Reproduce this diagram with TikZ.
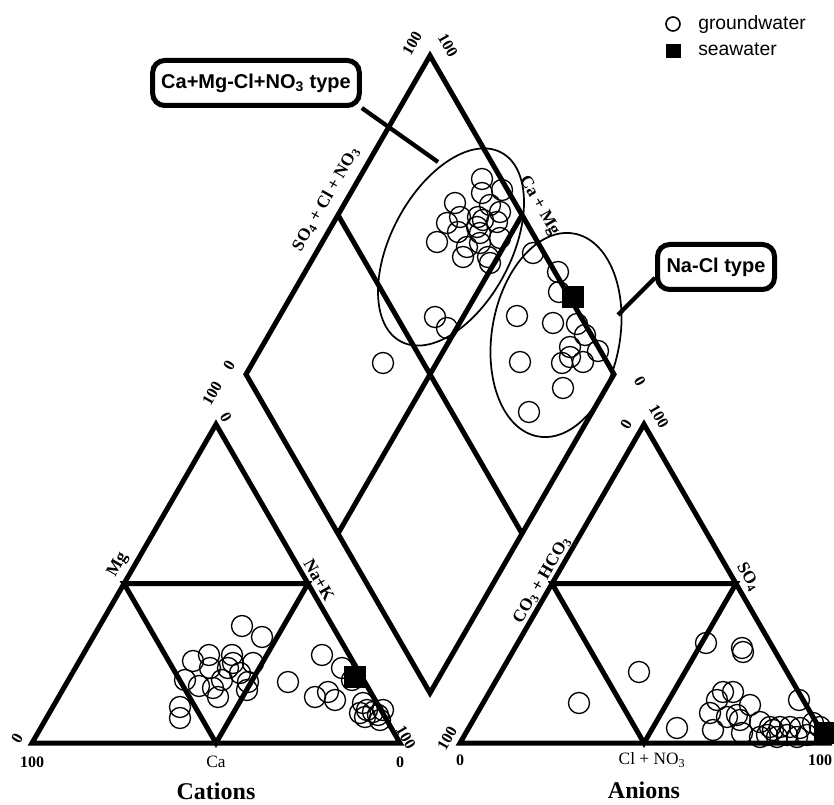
\documentclass[tikz,border=0pt]{standalone}
\usepackage{fontspec}
\setmainfont{Liberation Serif}
\setsansfont{Liberation Sans}
\usepackage{tikz}

\tikzset{
    frame/.style={line width=3.75pt, line join=miter},
    zone/.style={line width=1.3pt},
    lead/.style={line width=3.2pt},
    gw/.style={line width=1pt},
    sw/.style={fill=black},
    tick/.style={font=\bfseries\fontsize{12}{13}\selectfont, inner sep=0pt},
    axis/.style={font=\bfseries\fontsize{13}{14}\selectfont, inner sep=0pt},
    plain/.style={font=\fontsize{13}{14}\selectfont, inner sep=0pt},
    title/.style={font=\bfseries\fontsize{18}{19}\selectfont, inner sep=0pt, anchor=base},
    legend/.style={font=\sffamily\fontsize{14.5}{15}\selectfont, inner sep=0pt, anchor=base west},
    typebox/.style={draw, line width=3.75pt, rounded corners=9pt, fill=white, inner sep=0pt,
        minimum height=33.75pt, font=\sffamily\bfseries\fontsize{15}{16}\selectfont},
}

\begin{document}
\begin{tikzpicture}[x=0.75pt,y=-0.75pt]
    \useasboundingbox (0,0) rectangle (834,805);

    % diamond
    \draw[frame] (430,693) -- (246,374.3) -- (430,55.6) -- (614,374.3) -- cycle;
    \draw[frame] (338,215) -- (522,533.6);
    \draw[frame] (338,533.6) -- (522,215);

    % cations
    \draw[frame] (32,743) -- (216,424.3) -- (400,743) -- cycle;
    \draw[frame] (124,583.6) -- (308,583.6) -- (216,743) -- cycle;

    % anions
    \draw[frame] (460,743) -- (644,424.3) -- (828,743) -- cycle;
    \draw[frame] (552,583.6) -- (736,583.6) -- (644,743) -- cycle;

    % water types
    \draw[zone, rotate around={62:(451,247)}] (451,247) ellipse [x radius=107, y radius=60];
    \draw[zone, rotate around={-10:(556,335)}] (556,335) ellipse [x radius=64, y radius=103];

    % groundwater samples
    \foreach \p in {(242,626),(262,637),(193,661),(209,655),(210,668),(232,655),(233,663),
        (228,668),(253,663),(185,680),(199,686),(213,688),(218,697),(240,673),(248,682),
        (247,690),(222,680),(180,707),(180,718),(288,682),(322,655),(342,668),(315,697),
        (328,692),(335,700),(352,680),(363,703),(367,710),(373,712),(378,715),(380,720),
        (365,717),(383,710),(360,713)}
        \draw[gw] \p circle (10.5);
    \foreach \p in {(579,703),(639,672),(677,728),(706,643),(742,648),(743,652),(799,700),
        (723,692),(733,692),(717,700),(710,713),(727,717),(737,715),(750,705),(740,720),
        (713,730),(760,722),(770,727),(780,727),(790,727),(800,728),(813,723),(820,727),
        (767,735),(777,737),(787,735),(797,737),(807,735),(760,737),(742,733),(773,730)}
        \draw[gw] \p circle (10.5);
    \foreach \p in {(482,179),(502,190),(482,193),(455,203),(490,205),(500,212),(460,217),
        (478,217),(483,220),(447,223),(477,227),(497,222),(458,232),(480,233),(500,238),
        (437,242),(467,247),(480,243),(488,257),(463,257),(490,263),(435,317),(447,328),
        (383,363),(533,253),(558,272),(559,292),(517,316),(553,323),(577,324),(585,335),
        (570,347),(598,351),(520,362),(562,363),(570,357),(583,362),(563,388),(529,412)}
        \draw[gw] \p circle (10.5);

    % seawater
    \fill[sw] (344,666) rectangle (366,688);
    \fill[sw] (562,286) rectangle (584,308);
    \fill[sw] (814,722) rectangle (836,744);

    % type labels
    \coordinate (camgend) at (438,162);
    \coordinate (naclend) at (618,315);
    \node[typebox, minimum width=155pt] (camgbox) at (256,83) {Ca+Mg-Cl+NO\textsubscript{3} type};
    \draw[lead] (camgbox.south east) -- (camgend);
    \node[typebox, minimum width=87.75pt] (naclbox) at (716,267) {Na-Cl type};
    \draw[lead] (naclbox.190) -- (naclend);

    % legend
    \draw[line width=1.2pt] (673,24) circle (7);
    \node[legend] (gwtext) at (698,29.5) {groundwater};
    \fill[sw] (666,44) rectangle (681,58);
    \node[legend] (swtext) at (698,56) {seawater};

    % cation labels
    \node[tick, rotate=60] (cmgzero) at (17,738) {0};
    \node[tick] (ccahund) at (32,762) {100};
    \node[plain] (cca) at (216,762) {Ca};
    \node[tick] (ccazero) at (400,762) {0};
    \node[tick, rotate=-60] (cnahund) at (406,737) {100};
    \node[axis, rotate=60] (cmg) at (118,565) {Mg};
    \node[axis, rotate=-60] (cna) at (319,580) {Na+K};
    \node[tick, rotate=60] (cmghund) at (212,393) {100};
    \node[tick, rotate=-60] (cnazero) at (226,417) {0};
    \node[title] (cations) at (216,799) {Cations};

    % anion labels
    \node[tick, rotate=60] (aczero) at (626,424) {0};
    \node[tick, rotate=-60] (asohund) at (659,416) {100};
    \node[tick, rotate=60] (achund) at (447,738) {100};
    \node[tick] (aclzero) at (460,760) {0};
    \node[plain] (acl) at (652,760) {Cl + NO\textsubscript{3}};
    \node[tick] (aclhund) at (820,760) {100};
    \node[axis, rotate=60] (aco) at (542,580) {CO\textsubscript{3} + HCO\textsubscript{3}};
    \node[axis, rotate=-60] (aso) at (748,577) {SO\textsubscript{4}};
    \node[title] (anions) at (644,798) {Anions};

    % diamond labels
    \node[tick, rotate=60] (dsohund) at (412,43) {100};
    \node[tick, rotate=-60] (dcahund) at (448,45) {100};
    \node[axis, rotate=60] (dso) at (326,199) {SO\textsubscript{4} + Cl + NO\textsubscript{3}};
    \node[axis, rotate=-60] (dca) at (539,206) {Ca + Mg};
    \node[tick, rotate=60] (dsozero) at (229,365) {0};
    \node[tick, rotate=-60] (dcazero) at (640,381) {0};
\end{tikzpicture}
\end{document}
